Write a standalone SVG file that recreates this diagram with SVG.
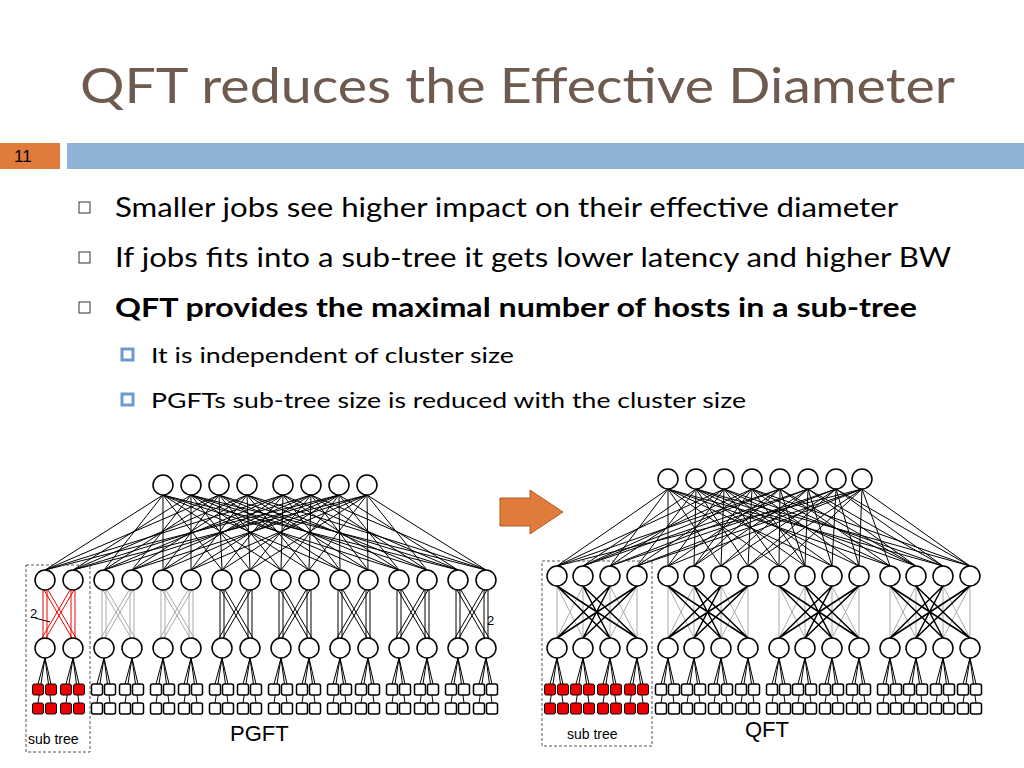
<svg xmlns="http://www.w3.org/2000/svg" width="1024" height="768" viewBox="0 0 1024 768">
<style>
.t{font-family:Lato,"Open Sans",sans-serif;fill:#000}
.n{fill:#fff;stroke:#000;stroke-width:1.5}
.k{fill:none;stroke:#000;stroke-width:1}
.g{fill:none;stroke:#aaa;stroke-width:1}
.r{fill:none;stroke:#e00;stroke-width:1}
.b{fill:none;stroke:#000;stroke-width:1.5}
.lab{font-family:"Liberation Sans",Arial,sans-serif;fill:#000}
.box{fill:none;stroke:#555;stroke-width:1;stroke-dasharray:3 2}
</style>
<defs>
<g id="leaf"><path class="k" d="M0 10L-7 36M0 10L6 36M0 10L-7 55M0 10L6 55"/><rect x="-12.5" y="36" width="11" height="11" rx="2" class="n"/><rect x="0.5" y="36" width="11" height="11" rx="2" class="n"/><rect x="-12.5" y="55" width="11" height="11" rx="2" class="n"/><rect x="0.5" y="55" width="11" height="11" rx="2" class="n"/><circle r="10" class="n"/></g>
<g id="leafr"><path class="k" d="M0 10L-7 36M0 10L6 36M0 10L-7 55M0 10L6 55"/><rect x="-12.5" y="36" width="11" height="11" rx="2" fill="#e00" stroke="#000"/><rect x="0.5" y="36" width="11" height="11" rx="2" fill="#e00" stroke="#000"/><rect x="-12.5" y="55" width="11" height="11" rx="2" fill="#e00" stroke="#000"/><rect x="0.5" y="55" width="11" height="11" rx="2" fill="#e00" stroke="#000"/><circle r="10" class="n"/></g>
<path id="px" d="M-2 10V58M2 10V58M26 10V58M30 10V58M-1 10L27 58M3 10L31 58M25 10L-3 58M29 10L1 58"/>
<g id="mid2"><circle r="10" class="n"/><circle cx="28" r="10" class="n"/></g>
<g id="qx"><path class="g" d="M0 10V62M26 10V62M53 10V62M80 10V62M0 10L26 62M26 10L0 62M53 10L80 62M80 10L53 62"/><path class="b" d="M0 10L53 62M0 10L80 62M26 10L53 62M26 10L80 62M53 10L0 62M53 10L26 62M80 10L0 62M80 10L26 62"/></g>
<g id="mid4"><circle r="10" class="n"/><circle cx="26" r="10" class="n"/><circle cx="53" r="10" class="n"/><circle cx="80" r="10" class="n"/></g>
</defs>
<rect width="1024" height="768" fill="#fff"/>
<text x="80" y="103" class="t" font-size="48" textLength="875" lengthAdjust="spacingAndGlyphs" style="fill:#6e5a4e">QFT reduces the Effective Diameter</text>
<rect x="0" y="143" width="60" height="26" fill="#e07b3c"/>
<text x="14" y="162" class="lab" font-size="17" fill="#222">11</text>
<rect x="67" y="143" width="957" height="26" fill="#8fb3d6"/>
<g class="t" font-size="27">
<rect x="79" y="202" width="11" height="11" fill="none" stroke="#333"/><text x="115" y="217" textLength="783" lengthAdjust="spacingAndGlyphs">Smaller jobs see higher impact on their effective diameter</text>
<rect x="79" y="252" width="11" height="11" fill="none" stroke="#333"/><text x="115" y="267" textLength="836" lengthAdjust="spacingAndGlyphs">If jobs fits into a sub-tree it gets lower latency and higher BW</text>
<rect x="79" y="302" width="11" height="11" fill="none" stroke="#333"/><text x="115" y="317" font-weight="bold" textLength="802" lengthAdjust="spacingAndGlyphs">QFT provides the maximal number of hosts in a sub-tree</text>
</g>
<g class="t" font-size="22">
<rect x="122" y="349" width="11" height="11" fill="#fff" stroke="#6b9bd0" stroke-width="3"/><text x="151" y="363" textLength="363" lengthAdjust="spacingAndGlyphs">It is independent of cluster size</text>
<rect x="122" y="394" width="11" height="11" fill="#fff" stroke="#6b9bd0" stroke-width="3"/><text x="151" y="408" textLength="595" lengthAdjust="spacingAndGlyphs">PGFTs sub-tree size is reduced with the cluster size</text>
</g>
<path d="M500 498H530V490L563 512L530 534V526H500Z" fill="#e07b3c" stroke="#b05a28"/>
<g id="connectors">
<path class="k" stroke-width="0.8" d="M163 495L45 570M163 495L104 570M163 495L163 570M163 495L222 570M163 495L281 570M163 495L340 570M163 495L399 570M163 495L458 570
M219 495L45 570M219 495L104 570M219 495L163 570M219 495L222 570M219 495L281 570M219 495L340 570M219 495L399 570M219 495L458 570
M283 495L45 570M283 495L104 570M283 495L163 570M283 495L222 570M283 495L281 570M283 495L340 570M283 495L399 570M283 495L458 570
M339 495L45 570M339 495L104 570M339 495L163 570M339 495L222 570M339 495L281 570M339 495L340 570M339 495L399 570M339 495L458 570
M191 495L73 570M191 495L132 570M191 495L191 570M191 495L250 570M191 495L309 570M191 495L368 570M191 495L427 570M191 495L486 570
M247 495L73 570M247 495L132 570M247 495L191 570M247 495L250 570M247 495L309 570M247 495L368 570M247 495L427 570M247 495L486 570
M311 495L73 570M311 495L132 570M311 495L191 570M311 495L250 570M311 495L309 570M311 495L368 570M311 495L427 570M311 495L486 570
M367 495L73 570M367 495L132 570M367 495L191 570M367 495L250 570M367 495L309 570M367 495L368 570M367 495L427 570M367 495L486 570"/>
<use href="#px" x="45" y="580" class="r"/><use href="#px" x="104" y="580" class="g"/><use href="#px" x="163" y="580" class="g"/><use href="#px" x="222" y="580" class="k"/><use href="#px" x="281" y="580" class="k"/><use href="#px" x="340" y="580" class="k"/><use href="#px" x="399" y="580" class="k"/><use href="#px" x="458" y="580" class="k"/>
<path class="k" d="M668 489L557 566M668 489L610 566M668 489L668 566M668 489L721 566M668 489L779 566M668 489L832 566M668 489L890 566M668 489L943 566
M696 489L583 566M696 489L637 566M696 489L694 566M696 489L748 566M696 489L805 566M696 489L859 566M696 489L916 566M696 489L970 566
M724 489L610 566M724 489L557 566M724 489L721 566M724 489L668 566M724 489L832 566M724 489L779 566M724 489L943 566M724 489L890 566
M752 489L637 566M752 489L583 566M752 489L748 566M752 489L694 566M752 489L859 566M752 489L805 566M752 489L970 566M752 489L916 566
M780 489L557 566M780 489L583 566M780 489L668 566M780 489L694 566M780 489L779 566M780 489L805 566M780 489L890 566M780 489L916 566
M808 489L583 566M808 489L610 566M808 489L694 566M808 489L721 566M808 489L805 566M808 489L832 566M808 489L916 566M808 489L943 566
M836 489L610 566M836 489L637 566M836 489L721 566M836 489L748 566M836 489L832 566M836 489L859 566M836 489L943 566M836 489L970 566
M862 489L637 566M862 489L557 566M862 489L748 566M862 489L668 566M862 489L859 566M862 489L779 566M862 489L970 566M862 489L890 566"/>
<use href="#qx" x="557" y="576"/><use href="#qx" x="668" y="576"/><use href="#qx" x="779" y="576"/><use href="#qx" x="890" y="576"/>
</g>
<g id="pgft-top"><circle cx="163" cy="485" r="10" class="n"/><circle cx="191" cy="485" r="10" class="n"/><circle cx="219" cy="485" r="10" class="n"/><circle cx="247" cy="485" r="10" class="n"/><circle cx="283" cy="485" r="10" class="n"/><circle cx="311" cy="485" r="10" class="n"/><circle cx="339" cy="485" r="10" class="n"/><circle cx="367" cy="485" r="10" class="n"/></g>
<g id="pgft-mid"><use href="#mid2" x="45" y="580"/><use href="#mid2" x="104" y="580"/><use href="#mid2" x="163" y="580"/><use href="#mid2" x="222" y="580"/><use href="#mid2" x="281" y="580"/><use href="#mid2" x="340" y="580"/><use href="#mid2" x="399" y="580"/><use href="#mid2" x="458" y="580"/></g>
<g id="pgft-leaf"><use href="#leafr" x="45" y="648"/><use href="#leafr" x="73" y="648"/><use href="#leaf" x="104" y="648"/><use href="#leaf" x="132" y="648"/><use href="#leaf" x="163" y="648"/><use href="#leaf" x="191" y="648"/><use href="#leaf" x="222" y="648"/><use href="#leaf" x="250" y="648"/><use href="#leaf" x="281" y="648"/><use href="#leaf" x="309" y="648"/><use href="#leaf" x="340" y="648"/><use href="#leaf" x="368" y="648"/><use href="#leaf" x="399" y="648"/><use href="#leaf" x="427" y="648"/><use href="#leaf" x="458" y="648"/><use href="#leaf" x="486" y="648"/></g>
<g id="qft-top"><circle cx="668" cy="479" r="10" class="n"/><circle cx="696" cy="479" r="10" class="n"/><circle cx="724" cy="479" r="10" class="n"/><circle cx="752" cy="479" r="10" class="n"/><circle cx="780" cy="479" r="10" class="n"/><circle cx="808" cy="479" r="10" class="n"/><circle cx="836" cy="479" r="10" class="n"/><circle cx="862" cy="479" r="10" class="n"/></g>
<g id="qft-mid"><use href="#mid4" x="557" y="576"/><use href="#mid4" x="668" y="576"/><use href="#mid4" x="779" y="576"/><use href="#mid4" x="890" y="576"/></g>
<g id="qft-leaf"><use href="#leafr" x="557" y="648"/><use href="#leafr" x="583" y="648"/><use href="#leafr" x="610" y="648"/><use href="#leafr" x="637" y="648"/><use href="#leaf" x="668" y="648"/><use href="#leaf" x="694" y="648"/><use href="#leaf" x="721" y="648"/><use href="#leaf" x="748" y="648"/><use href="#leaf" x="779" y="648"/><use href="#leaf" x="805" y="648"/><use href="#leaf" x="832" y="648"/><use href="#leaf" x="859" y="648"/><use href="#leaf" x="890" y="648"/><use href="#leaf" x="916" y="648"/><use href="#leaf" x="943" y="648"/><use href="#leaf" x="970" y="648"/></g>
<rect x="26" y="565" width="64" height="187" class="box"/>
<rect x="542" y="561" width="110" height="185" class="box"/>
<text x="28" y="744" class="lab" font-size="14">sub tree</text>
<text x="567" y="739" class="lab" font-size="14">sub tree</text>
<text x="230" y="741" class="lab" font-size="22">PGFT</text>
<text x="745" y="737" class="lab" font-size="22">QFT</text>
<text x="30" y="618" class="lab" font-size="13">2</text><path class="k" d="M35 618L50 622"/>
<text x="487" y="625" class="lab" font-size="13">2</text>
</svg>
